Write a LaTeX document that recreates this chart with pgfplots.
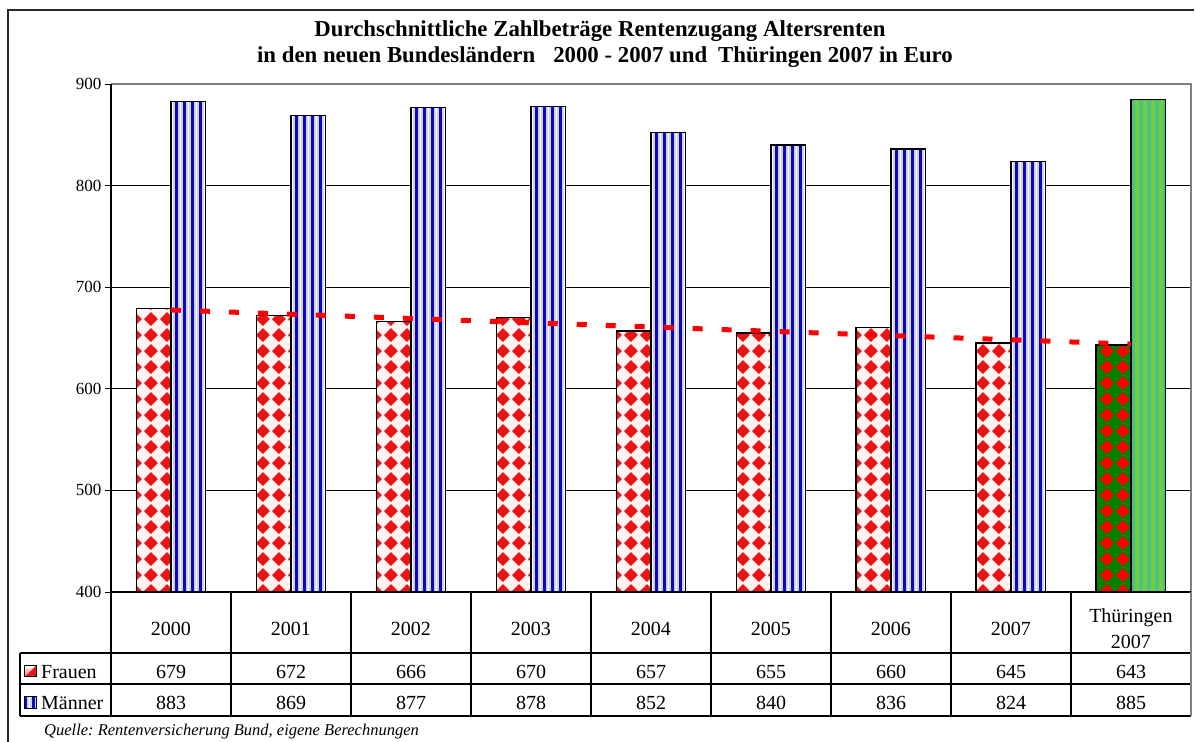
\documentclass[border=0pt]{standalone}
\usepackage{fontspec}
\setmainfont{Liberation Serif}
\usepackage{pgfplots}
\pgfplotsset{compat=1.18}
\usetikzlibrary{patterns.meta,shadings}
\frenchspacing

\definecolor{frred}{RGB}{235,20,20}
\definecolor{frbg}{RGB}{255,243,243}
\definecolor{mdark}{RGB}{10,10,190}
\definecolor{mlight}{RGB}{205,205,255}
\definecolor{thgreen}{RGB}{0,128,0}
\definecolor{thlime}{RGB}{120,205,55}
\definecolor{thteal}{RGB}{70,195,140}

\tikzdeclarepattern{
  name=frauenpat, type=colored,
  bottom left={(0pt,0pt)}, top right={(16pt,16pt)}, tile size={(16pt,16pt)},
  code={
    \fill[frbg] (0pt,0pt) rectangle (16pt,16pt);
    \fill[frred] (8pt,1pt) -- (15pt,8pt) -- (8pt,15pt) -- (1pt,8pt) -- cycle;
  }
}
\tikzdeclarepattern{
  name=thfrauenpat, type=colored,
  bottom left={(0pt,0pt)}, top right={(16pt,16pt)}, tile size={(16pt,16pt)},
  code={
    \fill[thgreen] (0pt,0pt) rectangle (16pt,16pt);
    \fill[red] (8pt,1pt) -- (15pt,8pt) -- (8pt,15pt) -- (1pt,8pt) -- cycle;
  }
}
\tikzdeclarepattern{
  name=maennerpat, type=colored,
  bottom left={(0pt,0pt)}, top right={(8pt,8pt)}, tile size={(8pt,8pt)},
  code={
    \fill[mlight] (0pt,0pt) rectangle (8pt,8pt);
    \fill[mdark] (0pt,0pt) rectangle (3pt,8pt);
    \fill[white] (5pt,0pt) rectangle (6pt,8pt);
  }
}
\tikzdeclarepattern{
  name=thmaennerpat, type=colored,
  bottom left={(0pt,0pt)}, top right={(8pt,8pt)}, tile size={(8pt,8pt)},
  code={
    \fill[thlime] (0pt,0pt) rectangle (8pt,8pt);
    \fill[thteal] (0pt,0pt) rectangle (4pt,8pt);
  }
}

\begin{document}
\begin{tikzpicture}[x=1bp,y=1bp]
\path[use as bounding box] (0,0) rectangle (1195,742);

\begin{axis}[
  at={(111bp,150bp)}, anchor=south west,
  scale only axis, width=1080bp, height=508bp,
  xmin=-0.5, xmax=8.5, ymin=400, ymax=900,
  axis line style={draw=none},
  ytick={400,500,600,700,800,900},
  ymajorgrids, grid style={black, line width=0.8bp},
  ytick pos=left, tick align=outside, major tick length=6bp,
  tick style={black, line width=0.8bp},
  yticklabel style={font=\fontsize{17bp}{20bp}\selectfont},
  /pgf/number format/assume math mode=true,
  xtick={0,1,2,3,4,5,6,7,8},
  xticklabels={2000,2001,2002,2003,2004,2005,2006,2007,{Thüringen\\2007}},
  xtick style={draw=none},
  xticklabel style={font=\fontsize{20bp}{26.5bp}\selectfont, align=center, anchor=center, yshift=-30.8bp},
  bar width=0.29,
]
\addplot[ybar, bar shift=-0.145, draw=black, line width=1.3bp, pattern=frauenpat]
  coordinates {(0,679) (1,672) (2,666) (3,670) (4,657) (5,655) (6,660) (7,645)};
\addplot[ybar, bar shift=0.145, draw=black, line width=1.3bp, pattern=maennerpat]
  coordinates {(0,883) (1,869) (2,877) (3,878) (4,852) (5,840) (6,836) (7,824)};
\addplot[ybar, bar shift=-0.145, draw=black, line width=1.3bp, pattern=thfrauenpat]
  coordinates {(8,643)};
\addplot[ybar, bar shift=0.145, draw=black, line width=1.3bp, pattern=thmaennerpat]
  coordinates {(8,885)};
% linear trend of Frauen
\addplot[red, line width=5bp, dash pattern=on 10bp off 19bp, sharp plot, mark=none]
  coordinates {(0,677.6) (8,644.0)};
\end{axis}

% axis frame
\draw[gray, line width=1.6bp] (111,658) -- (1191,658) -- (1191,26);
\draw[black, line width=1.2bp] (111,150) -- (111,658);
\draw[black, line width=1.2bp] (111,150) -- (1191,150);

% table
\draw[black, line width=1.2bp] (20,89) -- (1191,89);
\draw[black, line width=1.2bp] (20,58) -- (1191,58);
\draw[black, line width=1.2bp] (20,26) -- (1191,26);
\draw[black, line width=1.2bp] (20,26) -- (20,89);
\foreach \k in {0,...,8} {
  \draw[black, line width=1.2bp] ({111+120*\k},150) -- ({111+120*\k},26);
}
\draw[gray, line width=1.6bp] (1191,150) -- (1191,26);

\foreach \v [count=\i from 0] in {679,672,666,670,657,655,660,645,643} {
  \node[anchor=base, inner sep=0pt, font=\fontsize{20bp}{22bp}\selectfont] at ({171+120*\i},63.5) {\v};
}
\foreach \v [count=\i from 0] in {883,869,877,878,852,840,836,824,885} {
  \node[anchor=base, inner sep=0pt, font=\fontsize{20bp}{22bp}\selectfont] at ({171+120*\i},32) {\v};
}

% legend keys
\shade[upper left=white, upper right=white, lower left=frred!60, lower right=frred] (24,65) rectangle (36,76);
\fill[frred] (36,65) -- (36,76) -- (25,65) -- cycle;
\draw[black, line width=1bp] (24,65) rectangle (36,76);
\fill[pattern=maennerpat] (24,33) rectangle (36,45);
\draw[black, line width=1bp] (24,33) rectangle (36,45);
\node[anchor=base west, inner sep=0pt, font=\fontsize{20bp}{22bp}\selectfont] at (41,63.5) {Frauen};
\node[anchor=base west, inner sep=0pt, font=\fontsize{20bp}{22bp}\selectfont] at (41,32) {Männer};

% title
\node[anchor=base, inner sep=0pt, font=\bfseries\fontsize{22.8bp}{26bp}\selectfont] at (600,705) {Durchschnittliche Zahlbeträge Rentenzugang Altersrenten};
\node[anchor=base, inner sep=0pt, font=\bfseries\fontsize{22.8bp}{26bp}\selectfont] at (605,679) {in den neuen Bundesländern\hspace{18bp}2000 - 2007 und\hspace{11bp}Thüringen 2007 in Euro};

% source
\node[anchor=base west, inner sep=0pt, font=\itshape\fontsize{16.5bp}{19bp}\selectfont] at (44,6) {Quelle: Rentenversicherung Bund, eigene Berechnungen};

% outer frame
\draw[black!85, line width=1.5bp] (8,-2) -- (8,732) -- (1194,732);
\end{tikzpicture}
\end{document}
